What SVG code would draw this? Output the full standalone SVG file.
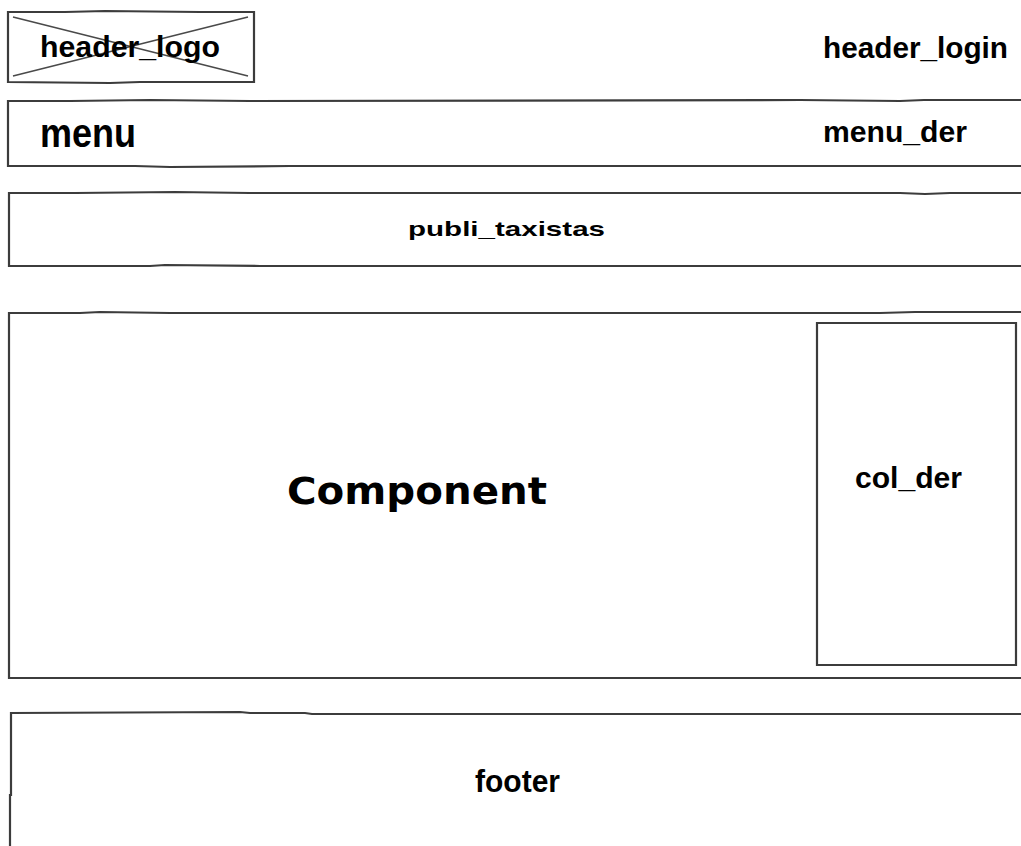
<svg xmlns="http://www.w3.org/2000/svg" width="1021" height="846" viewBox="0 0 1021 846">
<style>
.box{fill:none;stroke:#3c3c3c;stroke-width:2.2;stroke-linejoin:miter}
.x{fill:none;stroke:#4a4a4a;stroke-width:1.6}
.t{font-family:"Liberation Sans",Arial,sans-serif;font-weight:bold;fill:#000}
.c{font-family:"DejaVu Sans",Verdana,sans-serif;font-weight:bold;fill:#000}
</style>
<rect width="1021" height="846" fill="#fff"/>
<g id="header_logo">
<path class="box" d="M8,12 L65,12 L105,11 L200,12 L254,12 L254,82 L140,82 L110,83 L8,82 Z"/>
<path class="x" d="M13,17 L248,76 M13,76 L248,17"/>
<text class="t" x="40" y="57" font-size="30" textLength="180" lengthAdjust="spacingAndGlyphs">header_logo</text>
</g>
<g id="header_login">
<text class="t" x="823" y="58" font-size="30" textLength="185" lengthAdjust="spacingAndGlyphs">header_login</text>
</g>
<g id="menu">
<path class="box" d="M1030,100 L924,100 L900,101 L800,100 L250,101 L150,100 L70,101 L8,101 L8,166 L135,166 L170,167 L290,166 L1030,166"/>
<text class="t" x="40" y="147" font-size="41" textLength="96" lengthAdjust="spacingAndGlyphs">menu</text>
</g>
<g id="menu_der">
<text class="t" x="823" y="142" font-size="29" textLength="144" lengthAdjust="spacingAndGlyphs">menu_der</text>
</g>
<g id="publi_taxistas">
<path class="box" d="M1030,193 L950,193 L925,194 L900,193 L250,193 L175,192 L75,193 L9,193 L9,266 L150,266 L165,265 L260,266 L1030,266"/>
<text class="t" x="408" y="236" font-size="21" textLength="197" lengthAdjust="spacingAndGlyphs">publi_taxistas</text>
</g>
<g id="component">
<path class="box" d="M1030,312 L915,312 L880,313 L170,313 L100,312 L80,313 L9,313 L9,678 L1030,678"/>
<text class="c" x="287" y="504" font-size="37" textLength="260" lengthAdjust="spacingAndGlyphs">Component</text>
</g>
<g id="col_der">
<path class="box" d="M817,323 L1016,323 L1016,665 L817,665 Z"/>
<text class="t" x="855" y="488" font-size="30" textLength="107" lengthAdjust="spacingAndGlyphs">col_der</text>
</g>
<g id="footer">
<path class="box" d="M1030,714 L312,714 L305,713 L250,713 L240,712 L11,713 L11,795 L10,795 L10,850"/>
<text class="t" x="475" y="792" font-size="31" textLength="85" lengthAdjust="spacingAndGlyphs">footer</text>
</g>
<g id="connectors"/>
</svg>
